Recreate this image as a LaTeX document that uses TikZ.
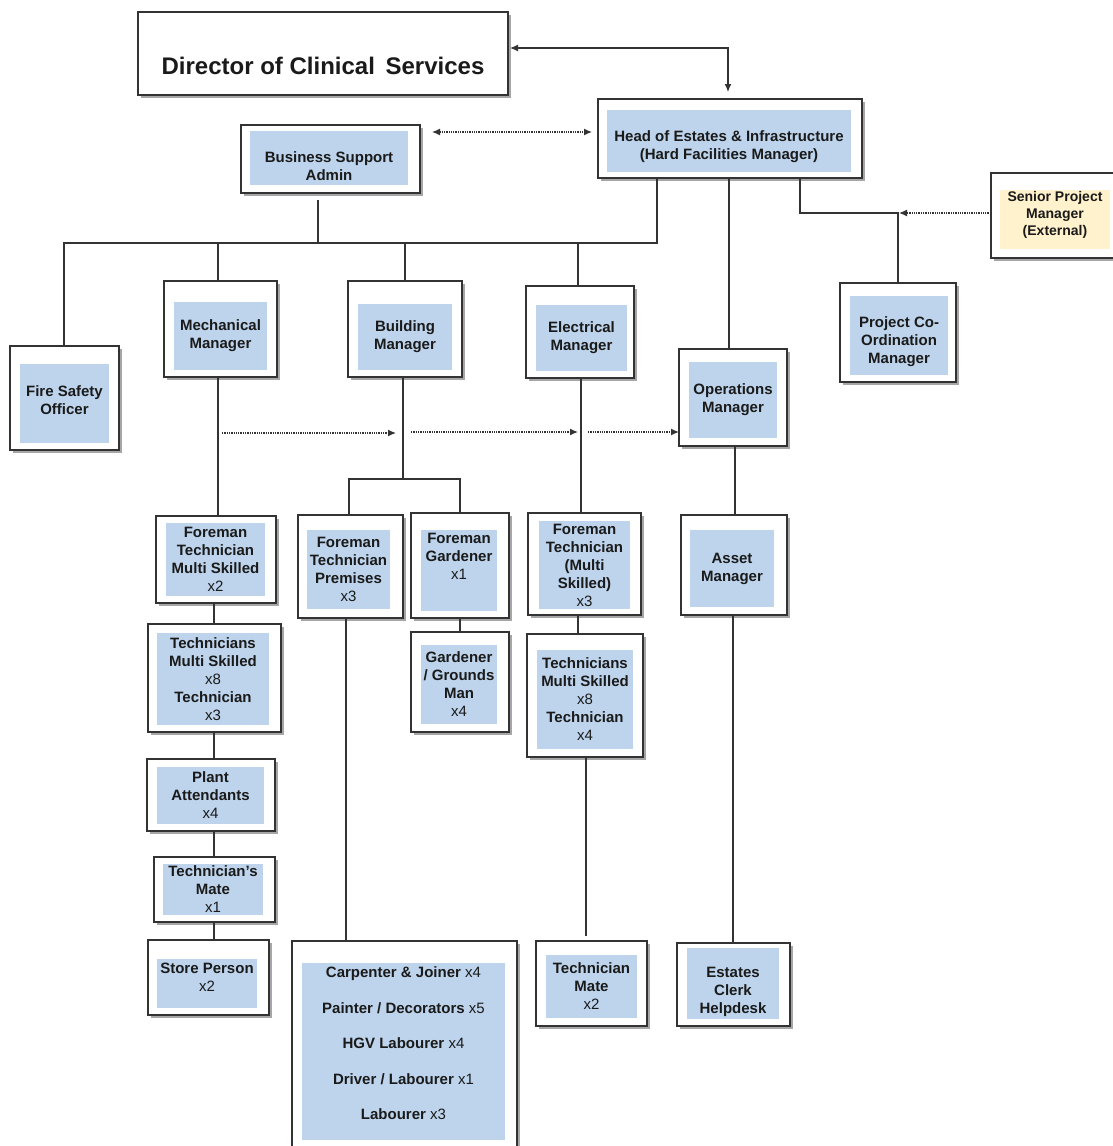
\documentclass[tikz,border=0pt]{standalone}
\usepackage{fontspec}
\setmainfont{Liberation Sans}
\usetikzlibrary{fit,shadows,arrows.meta}
\definecolor{boxblue}{HTML}{BDD4EC}
\definecolor{boxyellow}{HTML}{FFF2CC}
\definecolor{linec}{HTML}{333333}
\definecolor{txt}{HTML}{1A1A1A}
\tikzset{
  outerbox/.style={draw=linec, line width=1.5pt, fill=white, inner sep=0pt, outer sep=0pt,
    drop shadow={shadow xshift=3pt, shadow yshift=-3pt, fill=black, opacity=0.35}},
  innerbox/.style={fill=boxblue, inner sep=0pt, outer sep=0pt},
  lbl/.style={font=\bfseries\fontsize{15}{18}\selectfont, align=center, text=txt, inner sep=0pt},
  conn/.style={draw=linec, line width=1.3pt},
  dotarrow/.style={draw=linec, line width=1.3pt, densely dotted},
  tip/.style={-{Latex[length=8pt,width=7pt]}},
  dtip/.style={{Latex[length=8pt,width=7pt]}-{Latex[length=8pt,width=7pt]}},
}
\newcommand\orgbox[5][]{%
  \node[outerbox, fit={#3}] (#2) {};
  \node[innerbox, fit={#4}] (#2-in) {};
  \node[lbl, #1] at (#2-in.center) {#5};
}
\newcommand\cnt[1]{{\mdseries #1}}
\begin{document}
\begin{tikzpicture}[x=1pt,y=-1pt]
\useasboundingbox (0,0) rectangle (1112,1146);

% Director
\node[outerbox, fit={(138,12) (508,95)}] (dir) {};
\node[lbl, font=\bfseries\fontsize{24}{28}\selectfont, yshift=-12pt] at (dir.center) {Director of Clinical\, Services};

% Top level
\orgbox[yshift=-6pt]{head}{(598,99) (862,178)}{(607,110) (851,172)}{Head of Estates \& Infrastructure\\(Hard Facilities Manager)}
\orgbox[yshift=-8pt]{bsa}{(241,125) (420,193)}{(250,131) (408,185)}{Business Support\\Admin}
\node[outerbox, fit={(991,173) (1116,258)}] (spm) {};
\node[innerbox, fill=boxyellow, fit={(1000,190) (1110,249)}] (spm-in) {};
\node[lbl, font=\bfseries\fontsize{14}{17}\selectfont, yshift=5pt] at (spm-in.center) {Senior Project\\Manager\\(External)};

% Managers
\orgbox[yshift=3pt]{fso}{(10,346) (119,450)}{(20,364) (109,443)}{Fire Safety\\Officer}
\orgbox{mech}{(164,281) (277,377)}{(174,302) (267,370)}{Mechanical\\Manager}
\orgbox{bldg}{(348,281) (462,377)}{(358,304) (452,370)}{Building\\Manager}
\orgbox{elec}{(526,286) (634,378)}{(536,305) (627,371)}{Electrical\\Manager}
\orgbox{ops}{(679,349) (787,446)}{(689,362) (777,438)}{Operations\\Manager}
\orgbox[yshift=-6pt]{pcm}{(840,283) (956,382)}{(850,296) (948,375)}{Project Co-\\Ordination\\Manager}

% Mechanical column
\orgbox{m1}{(156,516) (276,603)}{(166,523) (265,596)}{Foreman\\Technician\\Multi Skilled\\\cnt{x2}}
\orgbox{m2}{(148,624) (281,732)}{(157,633) (269,725)}{Technicians\\Multi Skilled\\\cnt{x8}\\Technician\\\cnt{x3}}
\orgbox{m3}{(147,759) (275,831)}{(157,767) (264,824)}{Plant\\Attendants\\\cnt{x4}}
\orgbox{m4}{(154,857) (275,922)}{(163,864) (263,915)}{Technician's\\Mate\\\cnt{x1}}
\orgbox[yshift=6pt]{m5}{(148,940) (269,1015)}{(157,959) (257,1008)}{Store Person\\\cnt{x2}}

% Building column
\orgbox{b1}{(298,515) (403,618)}{(307,530) (390,609)}{Foreman\\Technician\\Premises\\\cnt{x3}}
\orgbox[yshift=14pt]{b2}{(411,513) (509,618)}{(421,530) (497,611)}{Foreman\\Gardener\\\cnt{x1}}
\orgbox{b3}{(411,632) (509,732)}{(421,645) (497,724)}{Gardener\\/ Grounds\\Man\\\cnt{x4}}
\orgbox[yshift=8pt]{b4}{(292,941) (517,1150)}{(302,963) (505,1140)}{Carpenter \& Joiner \cnt{x4}\\[17.5pt]Painter / Decorators \cnt{x5}\\[17.5pt]HGV Labourer \cnt{x4}\\[17.5pt]Driver / Labourer \cnt{x1}\\[17.5pt]Labourer \cnt{x3}}

% Electrical column
\orgbox{e1}{(528,513) (641,615)}{(539,521) (630,609)}{Foreman\\Technician\\(Multi\\Skilled)\\\cnt{x3}}
\orgbox{e2}{(527,634) (643,757)}{(537,650) (633,749)}{Technicians\\Multi Skilled\\\cnt{x8}\\Technician\\\cnt{x4}}
\orgbox{e3}{(536,941) (647,1026)}{(546,955) (637,1018)}{Technician\\Mate\\\cnt{x2}}

% Operations column
\orgbox{o1}{(681,515) (787,615)}{(690,530) (774,607)}{Asset\\Manager}
\orgbox[yshift=-8pt]{o2}{(677,943) (790,1026)}{(687,948) (779,1019)}{Estates\\Clerk\\Helpdesk}

% Junction coordinates
\coordinate (busL) at (64,243);
\coordinate (busR) at (657,243);
\coordinate (busB) at (318,243);
\coordinate (pj) at (800,213);
\coordinate (bj) at (403,479);
\coordinate (d1s) at (222,433);
\coordinate (d1e) at (396,433);
\coordinate (d2s) at (411,432);
\coordinate (d2e) at (578,432);
\coordinate (d3s) at (588,432);

% Connectors
\draw[conn, dtip, shorten <=2pt, shorten >=7pt] (dir.east |- 0,48) -| (head.north -| 728,0);
\draw[dotarrow, dtip] ([xshift=12pt]bsa.east |- 0,132) -- ([xshift=-6pt]head.west |- 0,132);

\draw[conn] (head.south -| busR) -- (busR) -- (busL) -- (fso.north -| busL);
\draw[conn] ([yshift=-7pt]bsa.south -| busB) -- (busB);
\draw[conn] (mech.north -| 218,0) -- (busL -| 218,0);
\draw[conn] (bldg.north) -- (bldg.north |- busL);
\draw[conn] (elec.north -| 578,0) -- (busL -| 578,0);
\draw[conn] (head.south -| 729,0) -- (ops.north -| 729,0);
\draw[conn] (head.south -| pj) -- (pj) -| (pcm.north);
\draw[dotarrow, tip, shorten >=1pt] (spm.west |- pj) -- (pcm.north |- pj);

\draw[dotarrow, tip] (d1s) -- (d1e);
\draw[dotarrow, tip] (d2s) -- (d2e);
\draw[dotarrow, tip] (d3s) -- (ops.west |- d3s);

% Mechanical chain
\draw[conn] (mech.south -| 218,0) -- (m1.north -| 218,0);
\draw[conn] (m1.south -| 214,0) -- (m2.north -| 214,0);
\draw[conn] (m2.south -| 214,0) -- (m3.north -| 214,0);
\draw[conn] (m3.south -| 214,0) -- (m4.north -| 214,0);
\draw[conn] (m4.south -| 214,0) -- (m5.north -| 214,0);

% Building chain
\draw[conn] (bldg.south -| bj) -- (bj);
\draw[conn] (b1.north -| 349,0) |- (b2.north |- bj) -- (b2.north);
\draw[conn] (b1.south -| 346,0) -- (b4.north -| 346,0);
\draw[conn] (b2.south) -- (b3.north);

% Electrical chain
\draw[conn] (elec.south -| 581,0) -- (e1.north -| 581,0);
\draw[conn] (e1.south -| 578,0) -- (e2.north -| 578,0);
\draw[conn] (e2.south -| 586,0) -- ([yshift=5pt]e3.north -| 586,0);

% Operations chain
\draw[conn] (ops.south -| 735,0) -- (o1.north -| 735,0);
\draw[conn] (o1.south -| 733,0) -- (o2.north -| 733,0);
\end{tikzpicture}
\end{document}
